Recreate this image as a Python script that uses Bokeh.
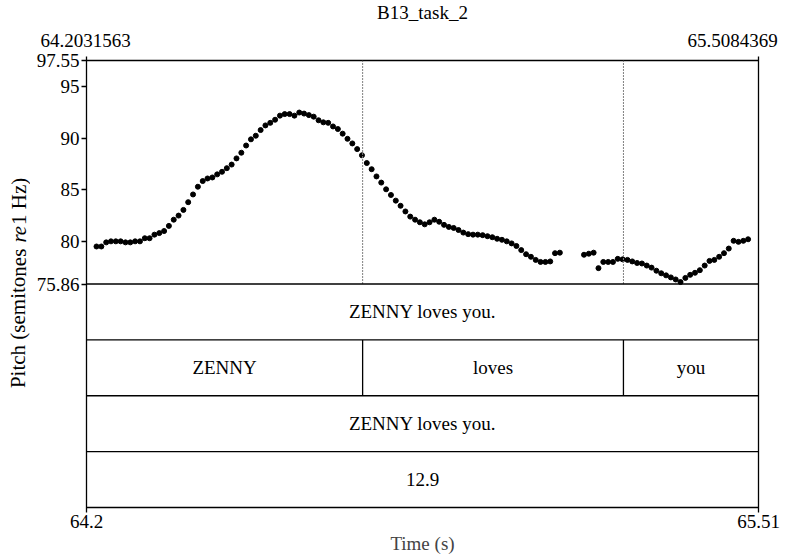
from bokeh.plotting import figure
from bokeh.models import Range1d, LinearAxis, FixedTicker
from bokeh.layouts import row, column
from bokeh.core.properties import value
from bokeh.embed import file_html
from bokeh.resources import INLINE

# ---------------- data ----------------
chart_title = "B13_task_2"
y_label_parts = ["Pitch (semitones ", "re", " 1 Hz)"]
x_label = "Time (s)"
t_start = 64.2031563
t_end = 65.5084369
pitch_min = 75.86
pitch_max = 97.55
pitch_ticks = [75.86, 80, 85, 90, 95, 97.55]
pitch_tick_labels = ["75.86", "80", "85", "90", "95", "97.55"]
bottom_tick_labels = ["64.2", "65.51"]
top_tick_labels = ["64.2031563", "65.5084369"]

times = [
    64.2226, 64.2320, 64.2414, 64.2507, 64.2601, 64.2695, 64.2789, 64.2882, 64.2976, 64.3070,
    64.3164, 64.3257, 64.3351, 64.3445, 64.3539, 64.3632, 64.3726, 64.3820, 64.3914, 64.4007,
    64.4101, 64.4195, 64.4289, 64.4382, 64.4476, 64.4570, 64.4664, 64.4757, 64.4851, 64.4945,
    64.5039, 64.5132, 64.5226, 64.5320, 64.5414, 64.5507, 64.5601, 64.5695, 64.5789, 64.5882,
    64.5976, 64.6070, 64.6164, 64.6257, 64.6351, 64.6445, 64.6539, 64.6632, 64.6726, 64.6820,
    64.6914, 64.7007, 64.7101, 64.7195, 64.7289, 64.7382, 64.7476, 64.7570, 64.7664, 64.7757,
    64.7851, 64.7945, 64.8039, 64.8132, 64.8226, 64.8320, 64.8414, 64.8507, 64.8601, 64.8695,
    64.8789, 64.8882, 64.8976, 64.9070, 64.9164, 64.9257, 64.9351, 64.9445, 64.9539, 64.9632,
    64.9726, 64.9820, 64.9914, 65.0007, 65.0101, 65.0195, 65.0289, 65.0382, 65.0476, 65.0570,
    65.0664, 65.0757, 65.0851, 65.0945, 65.1039, 65.1132, 65.1226,
    65.1695, 65.1789, 65.1882, 65.1976, 65.2070, 65.2164, 65.2257, 65.2351, 65.2445, 65.2539,
    65.2632, 65.2726, 65.2820, 65.2914, 65.3007, 65.3101, 65.3195, 65.3289, 65.3382, 65.3476,
    65.3570, 65.3664, 65.3757, 65.3851, 65.3945, 65.4039, 65.4132, 65.4226, 65.4320, 65.4414,
    65.4507, 65.4601, 65.4695, 65.4789, 65.4882,
]
pitch = [
    79.5, 79.5, 79.9, 80.0, 80.0, 80.0, 79.9, 79.9, 80.0, 80.0,
    80.3, 80.3, 80.65, 80.8, 81.0, 81.5, 82.1, 82.5, 83.05, 83.8,
    84.55, 85.3, 85.85, 86.1, 86.2, 86.5, 86.75, 87.1, 87.45, 88.05,
    88.6, 89.3, 89.9, 90.25, 90.8, 91.25, 91.5, 91.8, 92.2, 92.35,
    92.35, 92.2, 92.5, 92.4, 92.25, 92.1, 91.75, 91.55, 91.5, 91.15,
    90.9, 90.45, 89.95, 89.5, 88.95, 88.35, 87.6, 87.0, 86.3, 85.7,
    85.05, 84.5, 83.95, 83.45, 82.9, 82.4, 82.1, 81.85, 81.65, 81.85,
    82.1, 81.9, 81.6, 81.4, 81.3, 81.1, 80.85, 80.7, 80.65, 80.65,
    80.6, 80.5, 80.4, 80.25, 80.15, 80.0, 79.8, 79.55, 79.15, 78.75,
    78.5, 78.2, 78.0, 78.0, 78.05, 78.85, 78.9,
    78.7, 78.8, 78.9, 77.4, 78.0, 78.0, 78.0, 78.3, 78.25, 78.2,
    78.05, 77.9, 77.85, 77.65, 77.45, 77.15, 76.9, 76.7, 76.5, 76.3,
    76.05, 76.45, 76.75, 76.95, 77.2, 77.65, 78.1, 78.2, 78.5, 78.85,
    79.3, 80.05, 79.95, 80.05, 80.2,
]

word_boundaries = [64.7395, 65.2461]
tier_sentence = "ZENNY loves you."
tier_words = ["ZENNY", "loves", "you"]
tier_sentence2 = "ZENNY loves you."
tier_value = "12.9"

# ---------------- layout ----------------
FONT = "Liberation Serif"
FS = "19px"
YFS = "21px"
W, H = 806, 557
TOP_H = 50          # strip above the main figure (title + top time labels)
LEFT_W = 30         # strip left of the main figure (rotated y label)
BL, BR, BT, BB = 56, 48, 10, 50
main_w = W - LEFT_W
main_h = H - TOP_H
frame_left = LEFT_W + BL
frame_right = W - BR
tier_h = (pitch_max - pitch_min) / 4.0
y_bottom = pitch_min - 4 * tier_h


def blank_fig(w, h):
    f = figure(width=w, height=h, output_backend="svg", toolbar_location=None,
               x_range=Range1d(0, w), y_range=Range1d(0, h),
               x_axis_location=None, y_axis_location=None, min_border=0,
               background_fill_color="white", border_fill_color="white")
    f.grid.visible = False
    f.outline_line_color = None
    return f


# --- top strip: title and the exact start/end times ---
top_fig = blank_fig(W, TOP_H)
top_fig.text(x=[(frame_left + frame_right) / 2], y=[TOP_H - 12], text=[chart_title],
             text_align="center", text_baseline="middle",
             text_font=value(FONT), text_font_size=FS, text_color="black")
top_fig.text(x=[frame_left - 1, frame_right - 26], y=[TOP_H - 40, TOP_H - 40], text=top_tick_labels,
             text_align="center", text_baseline="middle",
             text_font=value(FONT), text_font_size=FS, text_color="black")

# --- left strip: rotated y label with italic "re" ---
# "re" is centred at a fixed spot; the two upright parts are aligned against it.
left_fig = blank_fig(LEFT_W, main_h)
re_center = H - 247          # from the bottom of the strip (strip bottom = page bottom)
re_half = 10.5
left_fig.text(x=[18], y=[re_center - re_half], text=[y_label_parts[0]], angle=1.5707963,
              text_align="right", text_baseline="middle",
              text_font=value(FONT), text_font_size=YFS, text_color="black")
left_fig.text(x=[18], y=[re_center], text=[y_label_parts[1]], angle=1.5707963,
              text_align="center", text_baseline="middle",
              text_font=value(FONT), text_font_size=YFS,
              text_font_style=value("italic"), text_color="black")
left_fig.text(x=[18], y=[re_center + re_half], text=[y_label_parts[2]], angle=1.5707963,
              text_align="left", text_baseline="middle",
              text_font=value(FONT), text_font_size=YFS, text_color="black")

# --- main figure ---
p = figure(width=main_w, height=main_h, output_backend="svg", toolbar_location=None,
           x_range=Range1d(t_start, t_end), y_range=Range1d(y_bottom, pitch_max),
           min_border_left=BL, min_border_right=BR, min_border_top=BT, min_border_bottom=BB,
           background_fill_color="white", border_fill_color="white")
p.grid.visible = False
p.outline_line_color = "black"
p.outline_line_width = 1.3


def style_axis(ax):
    ax.axis_line_color = None
    ax.major_tick_line_color = "black"
    ax.major_tick_line_width = 1.3
    ax.major_tick_in = 0
    ax.major_tick_out = 5
    ax.minor_tick_line_color = None
    ax.major_label_text_font = FONT
    ax.major_label_text_font_size = FS
    ax.major_label_text_color = "black"
    ax.major_label_standoff = 2


yax = p.yaxis[0]
style_axis(yax)
yax.ticker = FixedTicker(ticks=pitch_ticks)
yax.major_label_overrides = {t: l for t, l in zip(pitch_ticks, pitch_tick_labels)}

xax = p.xaxis[0]
style_axis(xax)
xax.ticker = FixedTicker(ticks=[t_start, t_end])
xax.major_label_overrides = {t_start: bottom_tick_labels[0], t_end: bottom_tick_labels[1]}
xax.axis_label = x_label
xax.axis_label_text_font = FONT
xax.axis_label_text_font_size = FS
xax.axis_label_text_font_style = "normal"
xax.axis_label_standoff = 2

top = LinearAxis()
style_axis(top)
top.major_tick_out = 4
top.major_label_standoff = 0
top.major_label_text_font_size = "0px"
top.ticker = FixedTicker(ticks=[t_start, t_end])
top.major_label_overrides = {t_start: "", t_end: ""}
p.add_layout(top, "above")

# pitch points
p.scatter(times, pitch, size=5, color="black")

# dotted boundary lines in pitch area
p.segment(x0=word_boundaries, y0=[pitch_min] * 2, x1=word_boundaries, y1=[pitch_max] * 2,
          line_color="#808080", line_width=1, line_dash="2 1")

# tier separators
tier_tops = [pitch_min - k * tier_h for k in range(4)]
p.segment(x0=[t_start] * 4, y0=tier_tops, x1=[t_end] * 4, y1=tier_tops,
          line_color="black", line_width=1.3)
# word boundaries in tier 2
p.segment(x0=word_boundaries, y0=[tier_tops[1]] * 2, x1=word_boundaries, y1=[tier_tops[2]] * 2,
          line_color="black", line_width=1.3)

# tier texts
mid = (t_start + t_end) / 2
word_edges = [t_start] + word_boundaries + [t_end]
tx = [mid] + [(word_edges[i] + word_edges[i + 1]) / 2 for i in range(3)] + [mid, mid]
ty = ([tier_tops[0] - tier_h / 2] + [tier_tops[1] - tier_h / 2] * 3 +
      [tier_tops[2] - tier_h / 2, tier_tops[3] - tier_h / 2])
tt = [tier_sentence] + tier_words + [tier_sentence2, tier_value]
p.text(x=tx, y=ty, text=tt, text_align="center", text_baseline="middle",
       text_font=value(FONT), text_font_size=FS, text_color="black")

layout = column(top_fig, row(left_fig, p, spacing=0), spacing=0)
open("out.html", "w").write(file_html(layout, INLINE))
